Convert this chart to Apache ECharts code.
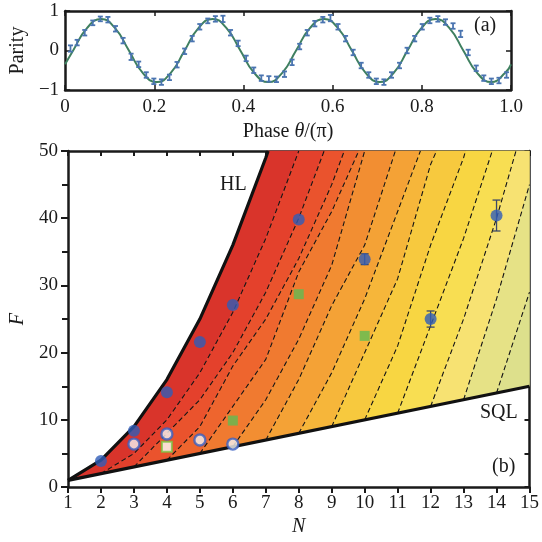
<!DOCTYPE html>
<html><head><meta charset="utf-8">
<script src="https://cdn.jsdelivr.net/npm/echarts@6/dist/echarts.min.js"></script>
<style>html,body{margin:0;padding:0;background:#fff}#c{width:542px;height:542px}</style>
</head><body><div id="c"></div>
<script>
// ---------- panel (a): parity vs phase ----------
const phaseX = [0.012,0.027,0.044,0.062,0.079,0.096,0.113,0.130,0.148,0.165,0.182,0.199,0.216,0.234,0.251,0.268,0.285,0.302,0.320,0.337,0.354,0.371,0.388,0.406,0.423,0.440,0.457,0.474,0.492,0.509,0.526,0.543,0.560,0.578,0.595,0.612,0.629,0.646,0.664,0.681,0.698,0.715,0.732,0.750,0.767,0.784,0.801,0.818,0.836,0.853,0.870,0.887,0.904,0.922,0.939,0.956,0.973,0.990];
const parityY = [0.05,0.20,0.45,0.70,0.80,0.78,0.55,0.25,-0.16,-0.35,-0.62,-0.78,-0.80,-0.68,-0.36,-0.02,0.30,0.60,0.75,0.80,0.80,0.45,0.18,-0.20,-0.50,-0.70,-0.72,-0.73,-0.60,-0.30,0.10,0.45,0.68,0.78,0.82,0.60,0.30,-0.05,-0.38,-0.62,-0.78,-0.80,-0.62,-0.38,0.00,0.30,0.60,0.76,0.80,0.72,0.62,0.42,-0.05,-0.45,-0.70,-0.78,-0.76,-0.62];
const parityErr = [0.08,0.07,0.07,0.06,0.06,0.07,0.07,0.07,0.08,0.07,0.07,0.07,0.07,0.07,0.07,0.07,0.07,0.07,0.06,0.07,0.08,0.07,0.07,0.07,0.07,0.07,0.07,0.07,0.07,0.07,0.07,0.07,0.07,0.07,0.08,0.07,0.07,0.07,0.07,0.07,0.07,0.07,0.07,0.07,0.07,0.07,0.07,0.07,0.07,0.07,0.07,0.08,0.07,0.07,0.07,0.07,0.07,0.07];
const fitX = [0,0.018,0.049,0.081,0.112,0.143,0.174,0.206,0.237,0.268,0.299,0.331,0.362,0.393,0.424,0.456,0.487,0.518,0.549,0.581,0.612,0.643,0.674,0.706,0.737,0.768,0.799,0.831,0.862,0.893,0.924,0.956,0.987,1.0];
const fitY = [-0.35,0,0.566,0.8,0.566,0,-0.566,-0.8,-0.566,0,0.566,0.8,0.566,0,-0.566,-0.8,-0.566,0,0.566,0.8,0.566,0,-0.566,-0.8,-0.566,0,0.566,0.8,0.566,0,-0.566,-0.8,-0.566,-0.35];

// ---------- panel (b): F vs N ----------
const HL  = [[1,1],[2,4],[3,9],[4,16],[5,25],[6,36],[7,49],[7.07,50]];
const SQL = [[1,1],[15,15]];
const contour1  = [[2,2],[3,5],[4,10],[5,17],[6,26],[7,37],[8,50]];
const contour2  = [[3,3],[4,8],[5,13],[6,20],[7,29],[8,40],[8.77,50]];
const contour3  = [[4,4],[5,9],[6,18],[7,25],[8,34],[9,45],[9.38,50]];
const contour4  = [[5,5],[6,12],[7,19],[8,32],[9,41],[9.82,50]];
const contour5  = [[6,6],[7,13],[8,22],[9,33],[10,50]];
const contour6  = [[7,7],[8,16],[9,27],[10,36],[10.93,50]];
const contour7  = [[8,8],[9,17],[10,28],[11,41],[11.69,50]];
const contour8  = [[9,9],[10,20],[11,31],[12,48],[12.18,50]];
const contour9  = [[10,10],[11,21],[12,36],[13,49],[13.06,50]];
const contour10 = [[11,11],[12,24],[13,37],[13.87,50]];
const contour11 = [[12,12],[13,25],[14,40],[14.59,50]];
const contour12 = [[13,13],[14,28],[15,45]];
const contour13 = [[14,14],[15,29]];
const contours = [contour1,contour2,contour3,contour4,contour5,contour6,contour7,contour8,contour9,contour10,contour11,contour12,contour13];

const blueN = [2,3,4,5,6,8,10,12,14];
const blueF = [3.9,8.4,14.1,21.6,27.1,39.8,33.9,25.0,40.4];
const blueErr = [0,0,0,0,0,0,0.8,1.2,2.3];
const greenN = [6,8,10];
const greenF = [9.9,28.7,22.5];
const openSqN = [4];
const openSqF = [6.0];
const openCircN = [3,4,5,6];
const openCircF = [6.4,7.9,7.0,6.4];

const N_MIN = 1, N_MAX = 15, F_MIN = 0, F_MAX = 50;
const bandColors = ['#d9342b','#e4412c','#ea532d','#ee652e','#f07a30','#f28e32','#f4a236','#f6b63a','#f7c93e','#f8d642','#f8de52','#f7e272','#e6e286','#dde08c'];

// ---------- build band polygons ----------
const bandBounds = [HL].concat(contours).concat([[SQL[1]]]);
const bandPolys = [];
for (let i = 0; i < bandBounds.length - 1; i++) {
  const a = bandBounds[i], b = bandBounds[i + 1];
  const pts = a.slice();
  const aEnd = a[a.length - 1], bEnd = b[b.length - 1];
  if (aEnd[1] >= F_MAX && bEnd[0] >= N_MAX && bEnd[1] < F_MAX) pts.push([N_MAX, F_MAX]);
  for (let j = b.length - 1; j >= 0; j--) pts.push(b[j]);
  bandPolys.push(pts);
}

const FONT = 'Liberation Serif';
const TXT = '#1a1a1a';
const frame = {show: true, onZero: false, lineStyle: {color: '#1a1a1a', width: 2.5}};

function errRender(capHalf, color, lw) {
  return function (params, api) {
    const x = api.value(0), y = api.value(1), e = api.value(2);
    const t = api.coord([x, y + e]), b = api.coord([x, y - e]);
    const st = {stroke: color, lineWidth: lw};
    return {type: 'group', children: [
      {type: 'line', shape: {x1: t[0], y1: t[1], x2: b[0], y2: b[1]}, style: st},
      {type: 'line', shape: {x1: t[0] - capHalf, y1: t[1], x2: t[0] + capHalf, y2: t[1]}, style: st},
      {type: 'line', shape: {x1: b[0] - capHalf, y1: b[1], x2: b[0] + capHalf, y2: b[1]}, style: st}
    ]};
  };
}

const chart = echarts.init(document.getElementById('c'));
const contourSeries = contours.map(c => ({
  type: 'line', xAxisIndex: 2, yAxisIndex: 2, data: c, symbol: 'none', z: 3, silent: true,
  lineStyle: {color: '#141414', width: 1.1, type: [5, 3]}
}));

chart.setOption({
  animation: false,
  backgroundColor: '#fff',
  grid: [
    {left: 60, right: 31, top: 11, height: 79},
    {left: 67, right: 12, top: 151, height: 342}
  ],
  xAxis: [
    {gridIndex: 0, type: 'value', min: 0, max: 1, interval: 0.2, position: 'bottom',
     axisLine: frame, axisTick: {inside: true, length: 5, lineStyle: {color: '#1a1a1a', width: 1.5}},
     splitLine: {show: false},
     axisLabel: {fontFamily: FONT, fontSize: 19, color: TXT, margin: 8, formatter: v => v === 0 ? '0' : v.toFixed(1)},
     name: 'Phase {i|θ}/(π)', nameLocation: 'middle', nameGap: 32,
     nameTextStyle: {fontFamily: FONT, fontSize: 20, color: TXT,
       rich: {i: {fontFamily: FONT, fontSize: 20, fontStyle: 'italic', color: TXT}}}},
    {gridIndex: 0, type: 'value', min: 0, max: 1, interval: 0.2, position: 'top',
     axisLine: frame, axisTick: {inside: true, length: 5, lineStyle: {color: '#1a1a1a', width: 1.5}},
     splitLine: {show: false}, axisLabel: {show: false}},
    {gridIndex: 1, type: 'value', min: N_MIN, max: N_MAX, interval: 1, position: 'bottom',
     axisLine: frame, axisTick: {inside: false, length: 6, lineStyle: {color: '#1a1a1a', width: 2}},
     splitLine: {show: false},
     axisLabel: {fontFamily: FONT, fontSize: 19, color: TXT, margin: 6},
     name: 'N', nameLocation: 'middle', nameGap: 26,
     nameTextStyle: {fontFamily: FONT, fontSize: 20, fontStyle: 'italic', color: TXT}},
    {gridIndex: 1, type: 'value', min: N_MIN, max: N_MAX, interval: 1, position: 'top',
     axisLine: frame, axisTick: {inside: true, length: 5, lineStyle: {color: '#1a1a1a', width: 2}},
     splitLine: {show: false}, axisLabel: {show: false}}
  ],
  yAxis: [
    {gridIndex: 0, type: 'value', min: -1, max: 1, interval: 1, position: 'left',
     axisLine: frame, axisTick: {inside: true, length: 5, lineStyle: {color: '#1a1a1a', width: 1.5}},
     splitLine: {show: false},
     axisLabel: {fontFamily: FONT, fontSize: 19, color: TXT, margin: 6, formatter: v => v < 0 ? '\u2212' + Math.abs(v) : String(v)},
     name: 'Parity', nameLocation: 'middle', nameGap: 36,
     nameTextStyle: {fontFamily: FONT, fontSize: 20, color: TXT}},
    {gridIndex: 0, type: 'value', min: -1, max: 1, interval: 1, position: 'right',
     axisLine: frame, axisTick: {inside: true, length: 5, lineStyle: {color: '#1a1a1a', width: 1.5}},
     splitLine: {show: false}, axisLabel: {show: false}},
    {gridIndex: 1, type: 'value', min: F_MIN, max: F_MAX, interval: 10, position: 'left',
     axisLine: frame, axisTick: {inside: false, length: 7, lineStyle: {color: '#1a1a1a', width: 2}},
     minorTick: {show: true, splitNumber: 2, length: 6, lineStyle: {color: '#1a1a1a', width: 2}},
     splitLine: {show: false}, minorSplitLine: {show: false},
     axisLabel: {fontFamily: FONT, fontSize: 19, color: TXT, margin: 10},
     name: 'F', nameLocation: 'middle', nameGap: 40,
     nameTextStyle: {fontFamily: FONT, fontSize: 20, fontStyle: 'italic', color: TXT}},
    {gridIndex: 1, type: 'value', min: F_MIN, max: F_MAX, interval: 5, position: 'right',
     axisLine: frame, axisTick: {inside: true, length: 5, lineStyle: {color: '#1a1a1a', width: 2}},
     splitLine: {show: false}, axisLabel: {show: false}}
  ],
  graphic: [
    {type: 'text', left: 474, top: 16, style: {text: '(a)', font: '20px "Liberation Serif"', fill: TXT}},
    {type: 'text', left: 220, top: 175, z: 100, style: {text: 'HL', font: '20px "Liberation Serif"', fill: TXT}},
    {type: 'text', left: 480, top: 403, z: 100, style: {text: 'SQL', font: '20px "Liberation Serif"', fill: TXT}},
    {type: 'text', left: 492, top: 457, z: 100, style: {text: '(b)', font: '20px "Liberation Serif"', fill: TXT}}
  ],
  series: [
    // panel (a)
    {type: 'line', xAxisIndex: 0, yAxisIndex: 0, data: fitX.map((x, i) => [x, fitY[i]]),
     smooth: true, symbol: 'none', z: 3, lineStyle: {color: '#3f8060', width: 2}},
    {type: 'custom', xAxisIndex: 0, yAxisIndex: 0, z: 4,
     data: phaseX.map((x, i) => [x, parityY[i], parityErr[i]]),
     renderItem: errRender(2.5, '#4a74b0', 1.8)},
    // panel (b) bands
    {type: 'custom', xAxisIndex: 2, yAxisIndex: 2, z: 1, silent: true,
     data: bandPolys.map((p, i) => [i]),
     renderItem: function (params, api) {
       const i = params.dataIndex;
       return {type: 'polygon', shape: {points: bandPolys[i].map(p => api.coord(p))},
               style: {fill: bandColors[i], stroke: bandColors[i], lineWidth: 0.6}};
     }},
    ...contourSeries,
    {type: 'line', xAxisIndex: 2, yAxisIndex: 2, data: HL, symbol: 'none', z: 4,
     lineStyle: {color: '#111', width: 3.2}},
    {type: 'line', xAxisIndex: 2, yAxisIndex: 2, data: SQL, symbol: 'none', z: 4,
     lineStyle: {color: '#111', width: 3.2}},
    {type: 'custom', xAxisIndex: 2, yAxisIndex: 2, z: 5,
     data: blueN.map((n, i) => [n, blueF[i], blueErr[i]]).filter(d => d[2] > 0),
     renderItem: errRender(4, '#3b4868', 1.3)},
    {type: 'scatter', xAxisIndex: 2, yAxisIndex: 2, z: 6, symbol: 'circle', symbolSize: 12,
     data: blueN.map((n, i) => [n, blueF[i]]), itemStyle: {color: '#2f5cb8'}},
    {type: 'scatter', xAxisIndex: 2, yAxisIndex: 2, z: 6, symbol: 'rect', symbolSize: 10,
     data: greenN.map((n, i) => [n, greenF[i]]), itemStyle: {color: '#62bb52'}},
    {type: 'scatter', xAxisIndex: 2, yAxisIndex: 2, z: 6, symbol: 'rect', symbolSize: 10,
     data: openSqN.map((n, i) => [n, openSqF[i]]), itemStyle: {color: '#ffffff', borderColor: '#7cc444', borderWidth: 2}},
    {type: 'scatter', xAxisIndex: 2, yAxisIndex: 2, z: 6, symbol: 'circle', symbolSize: 11,
     data: openCircN.map((n, i) => [n, openCircF[i]]), itemStyle: {color: '#f4f4f4', borderColor: '#3a5fc0', borderWidth: 2.4}}
  ]
});
</script>
</body></html>
